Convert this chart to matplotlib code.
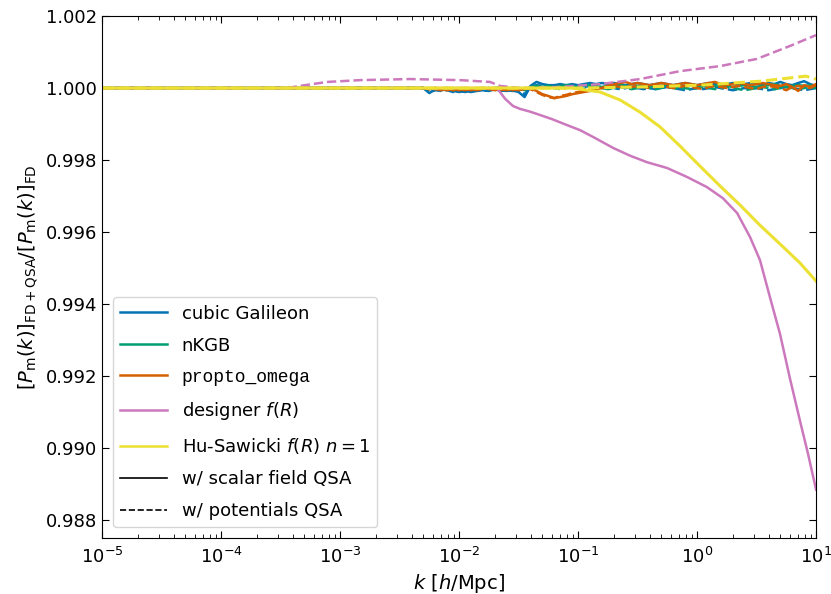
import matplotlib
matplotlib.use("Agg")
import matplotlib.pyplot as plt
from matplotlib.lines import Line2D
import numpy as np

plt.rcParams['font.family'] = ['DejaVu Sans']
plt.rcParams['mathtext.fontset'] = 'dejavusans'

# k grid (h/Mpc) for the noisy modified-gravity curves
k_noisy = [0.00501, 0.00562, 0.00631, 0.00708, 0.00794, 0.00891, 0.0100, 0.0112, 0.0126, 0.0141,
           0.0158, 0.0178, 0.0200, 0.0224, 0.0251, 0.0282, 0.0316, 0.0355, 0.0398, 0.0447,
           0.0501, 0.0562, 0.0631, 0.0708, 0.0794, 0.0891, 0.100, 0.112, 0.126, 0.141,
           0.158, 0.178, 0.200, 0.224, 0.251, 0.282, 0.316, 0.355, 0.398, 0.447,
           0.501, 0.562, 0.631, 0.708, 0.794, 0.891, 1.00, 1.12, 1.26, 1.41,
           1.58, 1.78, 2.00, 2.24, 2.51, 2.82, 3.16, 3.55, 3.98, 4.47,
           5.01, 5.62, 6.31, 7.08, 7.94, 8.91, 10.0]

galileon_scalar = [1.00000, 0.99986, 0.99997, 0.99994, 0.99997, 0.99992, 0.99989, 0.99992, 0.99989, 0.99992,
                   0.99994, 0.99992, 0.99997, 0.99994, 0.99992, 0.99994, 0.99989, 0.99975, 1.00006, 1.00017,
                   1.00011, 1.00008, 1.00008, 1.00011, 1.00008, 1.00011, 1.00008, 1.00011, 1.00014, 1.00011,
                   1.00014, 1.00011, 1.00014, 1.00011, 1.00008, 1.00011, 1.00014, 1.00011, 1.00008, 1.00011,
                   1.00014, 1.00011, 1.00008, 1.00011, 1.00014, 1.00011, 1.00008, 1.00011, 1.00014, 1.00011,
                   1.00008, 1.00011, 1.00014, 1.00008, 1.00011, 1.00014, 1.00011, 1.00008, 1.00014, 1.00011,
                   1.00017, 1.00011, 1.00008, 1.00014, 1.00019, 1.00011, 1.00006]
galileon_pot = [1.00000, 0.99989, 0.99994, 0.99992, 0.99994, 0.99989, 0.99992, 0.99989, 0.99992, 0.99994,
                0.99992, 0.99994, 0.99997, 0.99992, 0.99994, 0.99992, 0.99992, 0.99983, 1.00003, 1.00008,
                1.00006, 1.00003, 1.00006, 1.00003, 1.00006, 1.00003, 1.00000, 1.00003, 1.00006, 1.00003,
                1.00000, 1.00003, 1.00000, 0.99997, 1.00000, 1.00003, 1.00000, 0.99997, 1.00000, 0.99997,
                1.00000, 1.00003, 1.00000, 0.99997, 0.99994, 0.99997, 1.00000, 0.99997, 1.00000, 1.00003,
                1.00000, 0.99997, 0.99994, 0.99997, 1.00000, 0.99997, 1.00000, 0.99997, 0.99994, 0.99997,
                1.00000, 1.00003, 1.00000, 0.99997, 0.99994, 0.99997, 1.00000]
nkgb_scalar = [1.00000, 0.99997, 1.00000, 0.99997, 1.00000, 0.99994, 0.99997, 1.00000, 0.99997, 0.99997,
               1.00000, 0.99997, 1.00000, 1.00003, 1.00000, 0.99997, 1.00000, 0.99994, 1.00003, 1.00006,
               1.00003, 1.00006, 1.00003, 1.00006, 1.00008, 1.00006, 1.00003, 1.00006, 1.00008, 1.00006,
               1.00003, 1.00006, 1.00006, 1.00008, 1.00006, 1.00003, 1.00006, 1.00008, 1.00006, 1.00003,
               1.00006, 1.00008, 1.00006, 1.00003, 1.00006, 1.00008, 1.00006, 1.00006, 1.00003, 1.00006,
               1.00008, 1.00006, 1.00003, 1.00006, 1.00008, 1.00006, 1.00003, 1.00006, 1.00008, 1.00011,
               1.00006, 1.00003, 1.00006, 1.00008, 1.00006, 1.00008, 1.00003]
nkgb_pot = [1.00000, 0.99997, 1.00000, 0.99997, 1.00000, 0.99997, 0.99994, 0.99997, 1.00000, 0.99997,
            0.99997, 1.00000, 0.99997, 1.00000, 0.99997, 1.00000, 0.99997, 0.99997, 1.00000, 1.00003,
            1.00000, 1.00003, 1.00000, 0.99997, 1.00000, 1.00003, 1.00000, 0.99997, 1.00000, 1.00003,
            1.00000, 0.99997, 1.00000, 1.00003, 1.00000, 0.99997, 1.00000, 1.00003, 1.00000, 0.99997,
            1.00000, 1.00003, 1.00000, 0.99997, 1.00000, 0.99997, 1.00000, 1.00003, 1.00000, 0.99997,
            1.00000, 1.00003, 1.00000, 0.99997, 0.99994, 0.99997, 1.00000, 1.00003, 1.00000, 0.99997,
            1.00000, 1.00003, 1.00000, 0.99997, 1.00000, 1.00003, 1.00000]
omega_scalar = [1.00000, 0.99997, 1.00000, 0.99997, 0.99994, 0.99997, 0.99994, 0.99997, 0.99994, 0.99997,
                1.00000, 0.99997, 0.99994, 0.99997, 0.99994, 0.99997, 0.99994, 0.99997, 1.00000, 0.99992,
                0.99983, 0.99978, 0.99972, 0.99975, 0.99978, 0.99983, 0.99986, 0.99989, 0.99992, 0.99997,
                1.00000, 1.00006, 1.00011, 1.00014, 1.00017, 1.00011, 1.00014, 1.00011, 1.00008, 1.00011,
                1.00014, 1.00011, 1.00008, 1.00011, 1.00014, 1.00011, 1.00008, 1.00011, 1.00014, 1.00017,
                1.00011, 1.00008, 1.00011, 1.00014, 1.00011, 1.00008, 1.00011, 1.00014, 1.00011, 1.00008,
                1.00006, 1.00011, 1.00003, 0.99992, 1.00008, 1.00003, 1.00011]
omega_pot = [1.00000, 0.99997, 0.99997, 0.99994, 0.99997, 0.99994, 0.99997, 0.99994, 0.99997, 0.99994,
             0.99997, 1.00000, 0.99997, 0.99994, 0.99997, 0.99994, 0.99997, 1.00000, 0.99997, 0.99989,
             0.99981, 0.99975, 0.99972, 0.99978, 0.99981, 0.99986, 0.99989, 0.99992, 0.99994, 0.99997,
             1.00000, 1.00003, 1.00006, 1.00003, 1.00006, 1.00003, 1.00006, 1.00003, 1.00000, 1.00003,
             1.00006, 1.00003, 1.00000, 1.00003, 1.00006, 1.00003, 1.00000, 0.99997, 1.00003, 1.00006,
             1.00003, 1.00000, 1.00003, 1.00006, 1.00003, 1.00000, 0.99997, 1.00003, 1.00006, 1.00003,
             1.00000, 0.99994, 1.00003, 1.00006, 1.00003, 1.00000, 1.00008]

# designer f(R)
k_designer = [1e-5, 0.0208, 0.0244, 0.0284, 0.0326, 0.0390, 0.0452, 0.0600, 0.0809, 0.104,
              0.134, 0.199, 0.274, 0.380, 0.560, 0.824, 1.21, 1.65, 2.17, 2.79,
              3.38, 4.10, 4.98, 6.05, 7.34, 8.58, 10.0]
designer_scalar = [1.00000, 1.00000, 0.99970, 0.99950, 0.99942, 0.99935, 0.99928, 0.99914, 0.99897, 0.99883,
                   0.99864, 0.99833, 0.99812, 0.99794, 0.99778, 0.99753, 0.99725, 0.99694, 0.99653, 0.99586,
                   0.99522, 0.99419, 0.99317, 0.99192, 0.99075, 0.98983, 0.98885]
k_designer_pot = [1e-5, 3.6e-4, 4.6e-4, 7.8e-4, 1.47e-3, 3.87e-3, 0.0102, 0.0182, 0.0220, 0.0326,
                  0.0707, 0.153, 0.332, 0.720, 1.56, 3.19, 6.05, 10.0]
designer_pot = [1.00000, 1.00000, 1.00006, 1.00017, 1.00022, 1.00025, 1.00022, 1.00017, 1.00006, 1.00000,
                1.00003, 1.00011, 1.00025, 1.00047, 1.00061, 1.00081, 1.00117, 1.00147]

# Hu-Sawicki f(R), n = 1
k_hs = [1e-5, 0.090, 0.104, 0.153, 0.225, 0.332, 0.489, 0.719, 1.06, 1.56,
        2.30, 3.38, 4.98, 7.34, 10.0]
hs_scalar = [1.00000, 1.00000, 0.99997, 0.99989, 0.99967, 0.99933, 0.99892, 0.99839, 0.99783, 0.99728,
             0.99675, 0.99619, 0.99567, 0.99514, 0.99464]
k_hs_pot = [1e-5, 0.100, 0.332, 1.07, 3.40, 8.20, 10.0]
hs_pot = [1.00000, 1.00000, 1.00003, 1.00008, 1.00019, 1.00033, 1.00025]

labels = ['cubic Galileon', 'nKGB', 'propto_omega', r'designer $f(R)$', r'Hu-Sawicki $f(R)$ $n=1$']
colors = ['#0173b2', '#029e73', '#d55e00', '#cc78bc', '#ece133']

fig, ax = plt.subplots(figsize=(8.31, 5.94), dpi=100)
fig.subplots_adjust(left=0.123, right=0.982, top=0.973, bottom=0.094)

lead_k = [1e-5]
lead_v = [1.0]
noisy = [(galileon_scalar, galileon_pot), (nkgb_scalar, nkgb_pot), (omega_scalar, omega_pot)]
for (sc, pot), c in zip(noisy, colors[:3]):
    ax.plot(lead_k + k_noisy, lead_v + sc, color=c, lw=1.8)
    ax.plot(lead_k + k_noisy, lead_v + pot, color=c, lw=1.8, ls='--')

ax.plot(k_designer, designer_scalar, color=colors[3], lw=1.8)
ax.plot(k_designer_pot, designer_pot, color=colors[3], lw=1.8, ls='--')
ax.plot(k_hs, hs_scalar, color=colors[4], lw=2.2)
ax.plot(k_hs_pot, hs_pot, color=colors[4], lw=2.2, ls='--')

ax.set_xscale('log')
ax.set_xlim(1e-5, 10)
ax.set_ylim(0.9875, 1.002)
ax.set_yticks([0.988, 0.990, 0.992, 0.994, 0.996, 0.998, 1.000, 1.002])
ax.yaxis.set_major_formatter(matplotlib.ticker.FormatStrFormatter('%.3f'))
ax.tick_params(which='both', direction='in', top=True, right=True, labelsize=13)
ax.tick_params(which='major', length=5)
ax.tick_params(which='minor', length=3)
ax.tick_params(axis='x', pad=6)

ax.set_xlabel(r'$k\ [h/\mathrm{Mpc}]$', fontsize=14)
ax.set_ylabel(r'$[P_\mathrm{m}(k)]_\mathrm{FD+QSA}/[P_\mathrm{m}(k)]_\mathrm{FD}$', fontsize=14)

handles = [Line2D([], [], color=c, lw=1.8) for c in colors]
handles.append(Line2D([], [], color='black', lw=1.2))
handles.append(Line2D([], [], color='black', lw=1.2, ls='--'))
leg = ax.legend(handles, labels + ['w/ scalar field QSA', 'w/ potentials QSA'],
                loc='lower left', fontsize=13, handlelength=2.6, labelspacing=0.78,
                borderaxespad=0.6)
leg.get_texts()[2].set_family('Liberation Mono')

fig.savefig('out.png', dpi=100)
